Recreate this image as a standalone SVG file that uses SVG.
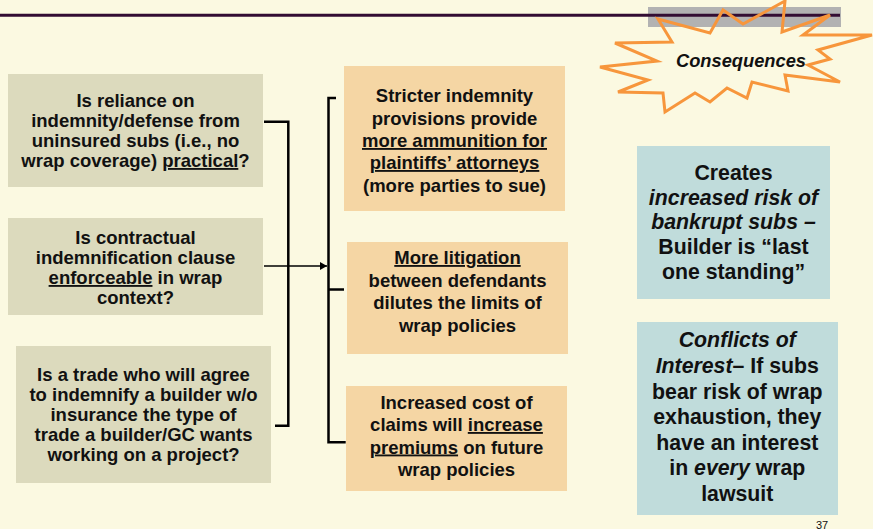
<svg xmlns="http://www.w3.org/2000/svg" width="873" height="529" viewBox="0 0 873 529">
  <style>
    text { font-family: "Liberation Sans", Arial, sans-serif; font-weight: bold; fill: #111; text-anchor: middle; }
    .q { font-size: 18.5px; }
    .r { font-size: 21.3px; }
    .u { text-decoration: underline; }
    .i { font-style: italic; }
    .qbox { fill: #DCDABD; }
    .cbox { fill: #F5D6A4; }
    .rbox { fill: #C0DCDB; }
    .wire { fill: none; stroke: #000; stroke-width: 2.5; }
  </style>
  <defs>
    <marker id="arrow" markerWidth="8" markerHeight="8" refX="7" refY="4" orient="auto" markerUnits="userSpaceOnUse">
      <path d="M0,0 L7,4 L0,8 Z" fill="#000"/>
    </marker>
  </defs>

  <!-- page background and title rule -->
  <rect width="873" height="529" fill="#FBF9E1"/>
  <rect x="648" y="7" width="193" height="20" fill="#B2B2B2"/>
  <line x1="0" y1="15.3" x2="840" y2="15.3" stroke="#330D33" stroke-width="3"/>

  <!-- starburst callout -->
  <g id="consequences">
    <polygon points="658,19 710,33 723,10 743,24 785,1 782,32 830,15 803,35 872,35 818,50 830,59 808,65 840,82 785,75 788,91 752,82 747,98 727,88 710,102 695,93 665,112 663,93 618,92 648,80 600,67 657,61 615,43 672,42" fill="none" stroke="#F7963C" stroke-width="3"/>
    <text x="741" y="66.5" class="i" style="font-size:18.3px">Consequences</text>
  </g>

  <!-- question boxes -->
  <g id="q-reliance">
    <rect class="qbox" x="8" y="74" width="255" height="113"/>
    <text class="q" x="135.5" y="107">Is reliance on</text>
    <text class="q" x="135.5" y="127">indemnity/defense from</text>
    <text class="q" x="135.5" y="147">uninsured subs (i.e., no</text>
    <text class="q" x="135.5" y="167">wrap coverage) <tspan class="u">practical</tspan>?</text>
  </g>
  <g id="q-enforceable">
    <rect class="qbox" x="8" y="218" width="255" height="97"/>
    <text class="q" x="135.5" y="244">Is contractual</text>
    <text class="q" x="135.5" y="264">indemnification clause</text>
    <text class="q" x="135.5" y="284"><tspan class="u">enforceable</tspan> in wrap</text>
    <text class="q" x="135.5" y="304">context?</text>
  </g>
  <g id="q-trade">
    <rect class="qbox" x="16" y="346" width="255" height="137"/>
    <text class="q" x="143.5" y="381">Is a trade who will agree</text>
    <text class="q" x="143.5" y="401">to indemnify a builder w/o</text>
    <text class="q" x="143.5" y="421">insurance the type of</text>
    <text class="q" x="143.5" y="441">trade a builder/GC wants</text>
    <text class="q" x="143.5" y="460.5">working on a project?</text>
  </g>

  <!-- consequence boxes -->
  <g id="c-ammunition">
    <rect class="cbox" x="344" y="66" width="221" height="145"/>
    <text class="q" x="454.5" y="102">Stricter indemnity</text>
    <text class="q" x="454.5" y="124.5">provisions provide</text>
    <text class="q" x="454.5" y="147"><tspan class="u">more ammunition for</tspan></text>
    <text class="q" x="454.5" y="169"><tspan class="u">plaintiffs’ attorneys</tspan></text>
    <text class="q" x="454.5" y="191.5">(more parties to sue)</text>
  </g>
  <g id="c-litigation">
    <rect class="cbox" x="347" y="242" width="221" height="112"/>
    <text class="q" x="457.5" y="264"><tspan class="u">More litigation</tspan></text>
    <text class="q" x="457.5" y="286.5">between defendants</text>
    <text class="q" x="457.5" y="309">dilutes the limits of</text>
    <text class="q" x="457.5" y="331.5">wrap policies</text>
  </g>
  <g id="c-premiums">
    <rect class="cbox" x="346" y="386" width="221" height="105"/>
    <text class="q" x="456.5" y="408.5">Increased cost of</text>
    <text class="q" x="456.5" y="431">claims will <tspan class="u">increase</tspan></text>
    <text class="q" x="456.5" y="453.5"><tspan class="u">premiums</tspan> on future</text>
    <text class="q" x="456.5" y="475.5">wrap policies</text>
  </g>

  <!-- result boxes -->
  <g id="r-bankrupt">
    <rect class="rbox" x="637" y="146" width="193" height="153"/>
    <text class="r" x="733.5" y="180">Creates</text>
    <text class="r i" x="733.5" y="204.5">increased risk of</text>
    <text class="r i" x="733.5" y="229">bankrupt subs –</text>
    <text class="r" x="733.5" y="254">Builder is “last</text>
    <text class="r" x="733.5" y="278.5">one standing”</text>
  </g>
  <g id="r-conflicts">
    <rect class="rbox" x="637" y="322" width="201" height="193"/>
    <text class="r i" x="737.3" y="347.3">Conflicts of</text>
    <text class="r" x="737.3" y="373"><tspan class="i">Interest</tspan>– If subs</text>
    <text class="r" x="737.3" y="398.5">bear risk of wrap</text>
    <text class="r" x="737.3" y="424">exhaustion, they</text>
    <text class="r" x="737.3" y="449.5">have an interest</text>
    <text class="r" x="737.3" y="475">in <tspan class="i">every</tspan> wrap</text>
    <text class="r" x="737.3" y="500.7">lawsuit</text>
  </g>

  <!-- connectors -->
  <g id="connectors">
    <polyline class="wire" points="264,121.7 288.3,121.7 288.3,425.7 275,425.7"/>
    <line x1="264" y1="266" x2="327" y2="266" stroke="#000" stroke-width="1.4" marker-end="url(#arrow)"/>
    <polyline class="wire" points="336,98 328.5,98 328.5,442.3 345.7,442.3"/>
    <line class="wire" x1="328.5" y1="289.5" x2="344" y2="289.5"/>
  </g>

  <!-- slide number -->
  <text x="822" y="528.5" style="font-size:11px;font-weight:normal">37</text>
</svg>
